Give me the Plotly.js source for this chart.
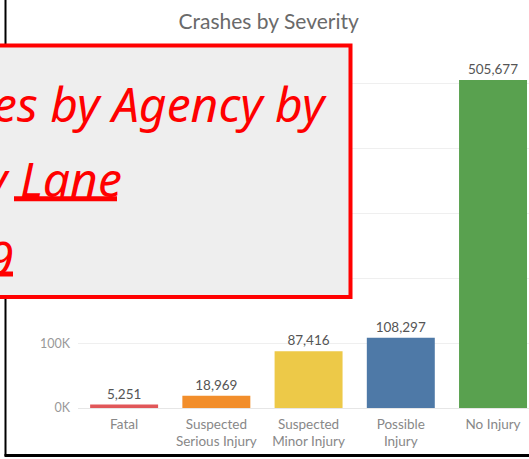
<!DOCTYPE html>
<html>
<head>
<meta charset="utf-8">
<script src="https://cdn.plot.ly/plotly-3.0.1.min.js"></script>
<style>html,body{margin:0;padding:0;background:#fff;}#chart{width:529px;height:459px;}</style>
</head>
<body>
<div id="chart"></div>
<script>
// ---- data ----
var categories = ["Fatal", "Suspected Serious Injury", "Suspected Minor Injury", "Possible Injury", "No Injury"];
var categoryLabels = ["Fatal", "Suspected<br>Serious Injury", "Suspected<br>Minor Injury", "Possible<br>Injury", "No Injury"];
var crashCounts = [5251, 18969, 87416, 108297, 505677];
var barColors = ["#e15759", "#f28e2b", "#edc948", "#4e79a7", "#59a14f"];
var yTickValues = [0, 100000, 200000, 300000, 400000, 500000];
var yTickLabels = ["0K", "100K", "200K", "300K", "400K", "500K"];
var chartTitle = "Crashes by Severity";
var overlayLines = ["es by Agency by", "y Lane", "9"];

// ---- layout helpers (pixel -> paper) ----
var W = 529, H = 459, M = {l: 78, r: 0, t: 50, b: 51};
var PW = W - M.l - M.r, PH = H - M.t - M.b;
function px(x) { return (x - M.l) / PW; }
function py(y) { return (H - M.b - y) / PH; }

var trace = {
  type: "bar",
  x: categories,
  y: crashCounts,
  marker: {color: barColors, line: {width: 0}},
  texttemplate: "%{y:,}",
  textposition: "outside",
  textfont: {family: "Lato, sans-serif", size: 13.5, color: "#555"},
  cliponaxis: false,
  hoverinfo: "none"
};

var shapes = [
  // frame lines
  {type: "line", xref: "paper", yref: "paper", x0: px(5.5), x1: px(5.5), y0: py(0), y1: py(456), line: {color: "#000", width: 2}},
  {type: "line", xref: "paper", yref: "paper", x0: px(4.5), x1: px(530), y0: py(455.5), y1: py(455.5), line: {color: "#000", width: 3}},
  // overlay box
  {type: "rect", xref: "paper", yref: "paper", x0: px(-30), x1: px(350.5), y0: py(45.5), y1: py(297), fillcolor: "#eeeeee", line: {color: "#ff0000", width: 4}},
  // underlines
  {type: "line", xref: "paper", yref: "paper", x0: px(14), x1: px(117), y0: py(198.7), y1: py(198.7), line: {color: "#ff0000", width: 5}},
  {type: "line", xref: "paper", yref: "paper", x0: px(-2), x1: px(13), y0: py(274), y1: py(274), line: {color: "#ff0000", width: 5}}
];
shapes.forEach(function (s) { s.layer = "above"; });

var overlayFont = {family: "'Noto Sans', sans-serif", size: 48, color: "#ff0000", style: "italic"};
var annotations = [
  {text: overlayLines[0], xref: "paper", yref: "paper", x: px(-9), y: py(103), xanchor: "left", yanchor: "middle", showarrow: false, font: overlayFont},
  {text: overlayLines[1], xref: "paper", yref: "paper", x: px(-22), y: py(178), xanchor: "left", yanchor: "middle", showarrow: false, font: overlayFont},
  {text: overlayLines[2], xref: "paper", yref: "paper", x: px(-15), y: py(257), xanchor: "left", yanchor: "middle", showarrow: false, font: overlayFont}
];

// labels 200K-500K sit under the overlay box in the reference, so they are not drawn
var shownTickLabels = yTickLabels.map(function (t, i) { return i < 2 ? t : ""; });

var layout = {
  width: W, height: H,
  margin: M,
  paper_bgcolor: "#ffffff",
  plot_bgcolor: "#ffffff",
  showlegend: false,
  bargap: 0.263,
  title: {text: chartTitle, x: 0.508, xanchor: "center", y: 1 - 22 / H, yanchor: "middle",
          font: {family: "Lato, sans-serif", size: 21, color: "#6a6a6a"}},
  xaxis: {
    type: "category",
    range: [-0.5, 4.39],
    tickvals: categories,
    ticktext: categoryLabels,
    showgrid: false, zeroline: false, showline: false, ticks: "",
    ticklabelstandoff: 6,
    tickfont: {family: "Lato, sans-serif", size: 13.5, color: "#888"},
    fixedrange: true
  },
  yaxis: {
    range: [0, 552000],
    tickvals: yTickValues,
    ticktext: shownTickLabels,
    showgrid: true, gridcolor: "#efefef", gridwidth: 1,
    zeroline: true, zerolinecolor: "#e6e6e6", zerolinewidth: 1,
    showline: false, ticks: "",
    ticklabelstandoff: 7,
    tickfont: {family: "Lato, sans-serif", size: 12.5, color: "#999"},
    fixedrange: true
  },
  shapes: shapes,
  annotations: annotations,
  hovermode: false
};

Plotly.newPlot("chart", [trace], layout, {displayModeBar: false, staticPlot: true});
</script>
</body>
</html>
